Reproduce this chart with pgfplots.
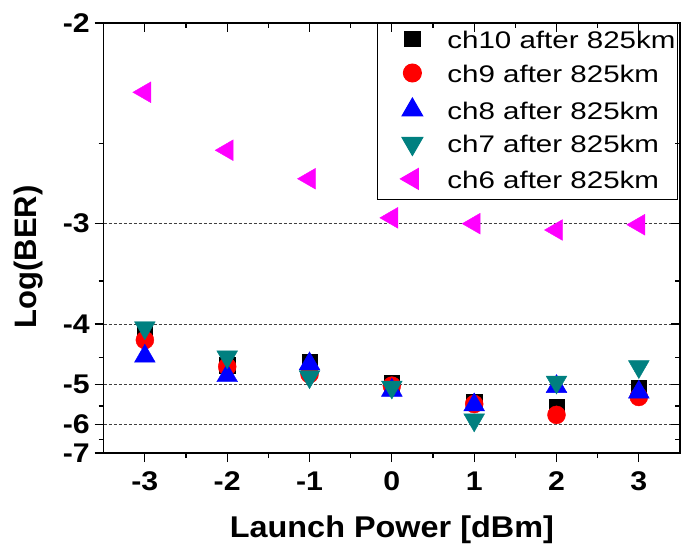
\documentclass[border=0pt]{standalone}
\usepackage{pgfplots}
\pgfplotsset{compat=1.18}
\usepackage{fontspec}
\setmainfont{Liberation Sans}
% Origin stretches its text a little sideways
\newfontfamily\tickfont[FakeStretch=1.12]{Liberation Sans}
\newfontfamily\xlabfont[FakeStretch=1.08]{Liberation Sans}
\newfontfamily\legfont[FakeStretch=1.23]{Liberation Sans}

\definecolor{chred}{RGB}{255,0,0}
\definecolor{chblue}{RGB}{0,0,255}
\definecolor{chteal}{RGB}{0,128,128}
\definecolor{chmag}{RGB}{255,0,255}

\begin{document}
\begin{tikzpicture}
% reciprocal y scale (Origin style): position ~ -1/y
\begin{axis}[
  name=main,
  scale only axis, width=576.3pt, height=430pt,
  xmin=-3.5, xmax=3.5, ymin=-7, ymax=-2,
  y coord trafo/.code={\pgfmathparse{-1/(#1)}},
  y coord inv trafo/.code={\pgfmathparse{-1/(#1)}},
  xtick={-3,-2,-1,0,1,2,3}, xticklabels={-3,-2,-1,0,1,2,3},
  minor xtick={-2.5,-1.5,-0.5,0.5,1.5,2.5},
  ytick={-7,-6,-5,-4,-3,-2}, yticklabels={-7,-6,-5,-4,-3,-2},
  minor ytick={-6.5,-5.5,-4.5,-3.5,-2.5},
  xtick pos=bottom, ytick pos=left, tick align=outside,
  major tick length=9pt, minor tick length=5pt,
  tick style={black, line width=1.2pt},
  axis line style={line width=1.5pt},
  ymajorgrids, grid style={black!75, line width=0.8pt, dash pattern=on 3pt off 2pt},
  ticklabel style={font=\fontsize{27}{27}\tickfont\bfseries},
  xticklabel style={yshift=-6pt},
  yticklabel style={xshift=-1.5pt},
  xlabel={Launch Power [dBm]}, ylabel={Log(BER)},
  xlabel style={font=\fontsize{30}{30}\xlabfont\bfseries,
    at={(axis description cs:0.5,0)}, anchor=base, yshift=-84pt},
  ylabel style={font=\fontsize{31}{31}\selectfont\bfseries,
    at={(axis description cs:-0.130,0.456)}, anchor=center},
  legend cell align=left,
  legend image code/.code={
    \path[draw=none] (0pt,0pt) -- (48pt,0pt);
    \draw[#1] plot coordinates {(34pt,2.5pt)};
  },
  legend style={at={(rel axis cs:0.9965,1)}, anchor=north east, draw=black, line width=1pt,
    font=\fontsize{24}{24}\legfont, inner xsep=1pt, inner ysep=7pt, row sep=11.5pt,
    nodes={inner sep=1pt, text height=17pt, text depth=3pt},
    /tikz/every odd column/.append style={column sep=20pt}},
]
\addplot[only marks, mark=square*, mark size=7.8pt, black] coordinates {
  (-3,-4.12) (-2,-4.63) (-1,-4.57) (0,-4.975) (1,-5.40) (2,-5.52) (3,-5.08)};
\addlegendentry{ch10 after 825km}
\addplot[only marks, mark=*, mark size=9pt, chred] coordinates {
  (-3,-4.225) (-2,-4.66) (-1,-4.80) (0,-5.03) (1,-5.45) (2,-5.73) (3,-5.28)};
\addlegendentry{ch9 after 825km}
\addplot[only marks, mark=triangle*, mark size=12pt, chblue] coordinates {
  (-3,-4.48) (-2,-4.83) (-1,-4.61) (0,-5.13) (1,-5.47) (2,-5.05) (3,-5.17)};
\addlegendentry{ch8 after 825km}
\addplot[only marks, mark=triangle*, mark size=12pt, mark options={rotate=180}, chteal] coordinates {
  (-3,-4.05) (-2,-4.49) (-1,-4.85) (0,-5.06) (1,-5.87) (2,-4.955) (3,-4.66)};
\addlegendentry{ch7 after 825km}
\addplot[only marks, mark=triangle*, mark size=12pt, mark options={rotate=90}, chmag] coordinates {
  (-3,-2.26) (-2,-2.536) (-1,-2.698) (0,-2.957) (1,-3.0) (2,-3.048) (3,-3.008)};
\addlegendentry{ch6 after 825km}
\path (rel axis cs:0,0) ++(-103.7pt,-91pt) coordinate (bl);
\path (rel axis cs:1,1) ++(1pt,23pt) coordinate (tr);
\end{axis}
% mirrored inward ticks on top and right
\begin{axis}[
  scale only axis, width=576.3pt, height=430pt,
  xmin=-3.5, xmax=3.5, ymin=-7, ymax=-2,
  y coord trafo/.code={\pgfmathparse{-1/(#1)}},
  y coord inv trafo/.code={\pgfmathparse{-1/(#1)}},
  xtick={-3,-2,-1,0,1,2,3}, minor xtick={-2.5,-1.5,-0.5,0.5,1.5,2.5},
  ytick={-7,-6,-5,-4,-3,-2}, minor ytick={-6.5,-5.5,-4.5,-3.5,-2.5},
  xticklabels={}, yticklabels={},
  xtick pos=top, ytick pos=right, tick align=inside,
  major tick length=9pt, minor tick length=5pt,
  tick style={black, line width=1.2pt},
  axis line style={line width=1.5pt},
]
\end{axis}
\pgfresetboundingbox
\path[use as bounding box] (bl) rectangle (tr);
\end{tikzpicture}
\end{document}
